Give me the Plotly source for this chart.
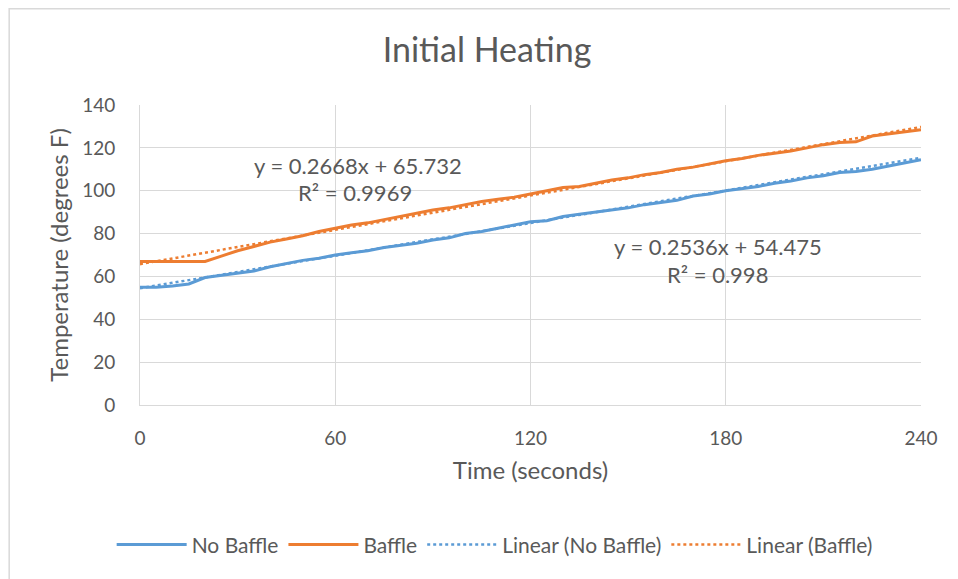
import plotly.graph_objects as go

time_s = list(range(0, 241, 5))
no_baffle = [55, 55, 55.5, 56.5, 59.5, 60.5, 61.5, 62.5, 64.5, 66, 67.5, 68.5, 70, 71, 72,
             73.5, 74.5, 75.5, 77, 78, 80, 81, 82.5, 84, 85.5, 86, 88, 89, 90, 91, 92,
             93.5, 94.5, 95.5, 97.5, 98.5, 100, 101, 102, 103.5, 104.5, 106, 107, 108.5,
             109, 110, 111.5, 113, 114.5]
baffle = [67, 67, 67, 66.8, 67, 69.5, 72, 74, 76, 77.5, 79, 81, 82.5, 84, 85, 86.5, 88,
          89.5, 91, 92, 93.5, 95, 96, 97, 98.5, 100, 101.5, 102, 103.5, 105, 106, 107.5,
          108.5, 110, 111, 112.5, 114, 115, 116.5, 117.5, 118.5, 120, 121.5, 122.5, 122.8,
          125.5, 126.5, 127.5, 128.5]

fit_nb = (0.2536, 54.475, "y = 0.2536x + 54.475", "R² = 0.998")
fit_b = (0.2668, 65.732, "y = 0.2668x + 65.732", "R² = 0.9969")
x_ticks = [0, 60, 120, 180, 240]
y_ticks = [0, 20, 40, 60, 80, 100, 120, 140]

BLUE = "#5B9BD5"
ORANGE = "#ED7D31"
TXT = "#595959"
FONT = "Lato, sans-serif"

fig = go.Figure()
fig.add_trace(go.Scatter(x=time_s, y=no_baffle, mode="lines", name="No Baffle",
                         line=dict(color=BLUE, width=3)))
fig.add_trace(go.Scatter(x=time_s, y=baffle, mode="lines", name="Baffle",
                         line=dict(color=ORANGE, width=3)))
tx = [time_s[0], time_s[-1]]
fig.add_trace(go.Scatter(x=tx, y=[fit_nb[0] * t + fit_nb[1] for t in tx], mode="lines",
                         name="Linear (No Baffle)", line=dict(color=BLUE, width=2.5, dash="dot")))
fig.add_trace(go.Scatter(x=tx, y=[fit_b[0] * t + fit_b[1] for t in tx], mode="lines",
                         name="Linear (Baffle)", line=dict(color=ORANGE, width=2.5, dash="dot")))

afont = dict(size=22, color=TXT, family=FONT)
fig.add_annotation(x=67, y=112, text=fit_b[2], showarrow=False, font=afont)
fig.add_annotation(x=66, y=99, text=fit_b[3], showarrow=False, font=afont)
fig.add_annotation(x=177.5, y=74.2, text=fit_nb[2], showarrow=False, font=afont)
fig.add_annotation(x=177.5, y=61.1, text=fit_nb[3], showarrow=False, font=afont)

# outer chart border
fig.add_shape(type="rect", xref="paper", yref="paper", x0=-0.1675, x1=1.08, y0=-0.65, y1=1.321,
              line=dict(color="#d9d9d9", width=1.5), fillcolor="rgba(0,0,0,0)", layer="below")

fig.update_layout(
    width=958, height=579,
    margin=dict(l=132, r=45, t=97, b=182, autoexpand=False),
    paper_bgcolor="white", plot_bgcolor="white",
    font=dict(family=FONT, color=TXT, size=19),
    title=dict(text="Initial Heating", x=0.5, xanchor="center", y=0.927, yanchor="middle",
               font=dict(size=34, color=TXT, family=FONT)),
    showlegend=True,
    legend=dict(orientation="h", xref="container", yref="container", x=0.508, xanchor="center",
                y=0.073, yanchor="middle",
                font=dict(size=21, color=TXT), itemwidth=70, tracegroupgap=0),
    xaxis=dict(range=[0, 240], tickvals=x_ticks, showgrid=True, gridcolor="#d9d9d9", gridwidth=1,
               showline=True, linecolor="#d9d9d9", linewidth=1, mirror=False, zeroline=False,
               ticks="", ticklabelstandoff=16, tickfont=dict(size=19, color=TXT),
               title=dict(text="Time (seconds)", standoff=14, font=dict(size=24, color=TXT))),
    yaxis=dict(range=[0, 140], tickvals=y_ticks, showgrid=True, gridcolor="#d9d9d9", gridwidth=1,
               showline=True, linecolor="#d9d9d9", linewidth=1, zeroline=False,
               ticks="", ticklabelstandoff=20, tickfont=dict(size=19, color=TXT),
               title=dict(text="Temperature (degrees F)", standoff=6, font=dict(size=24, color=TXT))),
)
fig.write_html("out.html")
